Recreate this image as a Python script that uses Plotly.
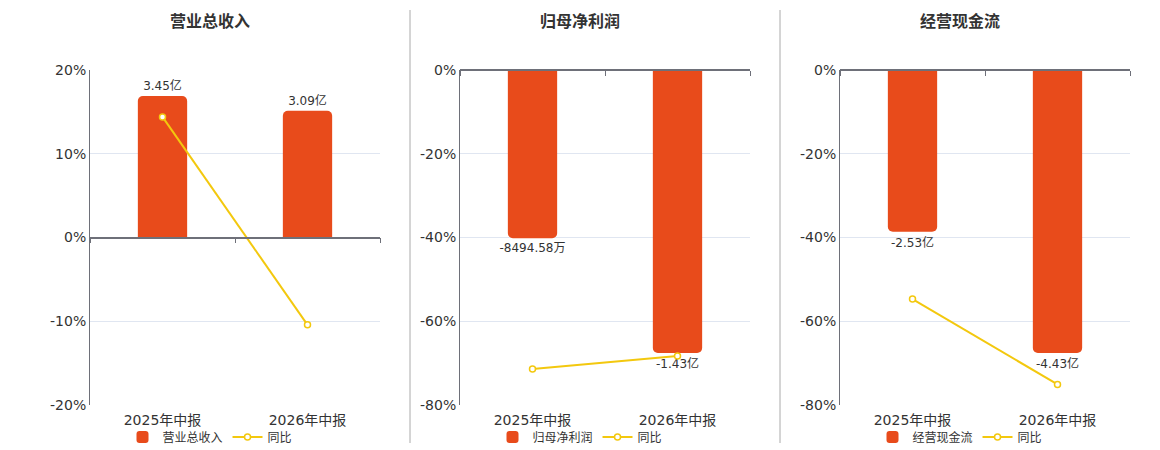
import plotly.graph_objects as go

# --- data ---
categories = ['2025年中报', '2026年中报']

titles = ['营业总收入', '归母净利润', '经营现金流']

revenue = [3.45, 3.09]            # 亿
revenue_labels = ['3.45亿', '3.09亿']
revenue_yoy = [14.4, -10.43]      # %

profit = [-0.849458, -1.43]       # 亿
profit_labels = ['-8494.58万', '-1.43亿']
profit_yoy = [-71.4, -68.3]

cashflow = [-2.53, -4.43]         # 亿
cashflow_labels = ['-2.53亿', '-4.43亿']
cashflow_yoy = [-54.7, -75.1]

pct_ranges = [(-20, 20, 10), (-80, 0, 20), (-80, 0, 20)]

BAR_COLOR = '#E84B1B'
LINE_COLOR = '#F3C80E'
AXIS_COLOR = '#6E7079'
GRID_COLOR = '#E0E6F1'
TEXT_COLOR = '#333333'
FONT = 'DejaVu Sans, Noto Sans CJK SC, sans-serif'

W, H = 1160, 450
# plot areas in pixels (left, right), shared top/bottom; title/legend centres
x_px = [(90, 380), (460, 750), (840, 1130)]
centre_px = [210, 580, 960]
top_px, bottom_px = 70, 405

panels = [
    (revenue, revenue_labels, revenue_yoy),
    (profit, profit_labels, profit_yoy),
    (cashflow, cashflow_labels, cashflow_yoy),
]

fig = go.Figure()
y_dom = [1 - bottom_px / H, 1 - top_px / H]

for i, ((bars, labels, yoy), title, (lo, hi, step)) in enumerate(zip(panels, titles, pct_ranges)):
    n = i + 1
    sfx = '' if n == 1 else str(n)
    ov = str(n + 3)  # overlay axes: percent scale, line, zero axis
    x_dom = [x_px[i][0] / W, x_px[i][1] / W]
    leg = 'legend' if n == 1 else f'legend{n}'

    # bars sit on a hidden axis so the tallest bar fills ~84.5% of the grid
    m = max(abs(v) for v in bars) / 0.845
    bar_lo = lo / max(abs(lo), abs(hi)) * m
    bar_hi = hi / max(abs(lo), abs(hi)) * m

    fig.add_trace(go.Bar(
        x=categories, y=bars, name=title, text=labels,
        textposition='outside', cliponaxis=False, constraintext='none',
        textfont=dict(size=12, color=TEXT_COLOR),
        marker=dict(color=BAR_COLOR, cornerradius=5, line=dict(width=0)),
        width=0.34, xaxis='x' + sfx, yaxis='y' + sfx, legend=leg,
        hoverinfo='skip',
    ))
    fig.add_trace(go.Scatter(
        x=categories, y=yoy, name='同比', mode='lines+markers',
        line=dict(color=LINE_COLOR, width=2),
        marker=dict(symbol='circle', size=6, color='white',
                    line=dict(color=LINE_COLOR, width=1.5)),
        xaxis='x' + ov, yaxis='y' + ov, legend=leg, cliponaxis=False,
    ))

    zero_pos = y_dom[0] + (0 - lo) / (hi - lo) * (y_dom[1] - y_dom[0])
    pct_ticks = list(range(lo, hi + 1, step))

    fig.update_layout(**{
        f'xaxis{sfx}': dict(
            domain=x_dom, anchor='y' + sfx, type='category',
            categoryorder='array', categoryarray=categories,
            range=[-0.5, 1.5], showline=False, showgrid=False, ticks='',
            ticklabelstandoff=5,
            tickfont=dict(size=14, color=TEXT_COLOR), fixedrange=True,
            automargin=False,
        ),
        f'yaxis{sfx}': dict(
            domain=y_dom, anchor='x' + sfx, range=[bar_lo, bar_hi],
            visible=False, fixedrange=True, automargin=False,
        ),
        f'xaxis{ov}': dict(
            overlaying='x' + sfx, anchor='free', position=zero_pos,
            type='category', categoryorder='array', categoryarray=categories,
            range=[-0.5, 1.5], showline=True, linecolor=AXIS_COLOR, linewidth=1.5,
            ticks='outside', ticklen=5, tickcolor=AXIS_COLOR, tickson='boundaries',
            showticklabels=False, showgrid=False, fixedrange=True, automargin=False,
        ),
        f'yaxis{ov}': dict(
            overlaying='y' + sfx, anchor='x' + sfx, side='left',
            range=[lo, hi], tickmode='array', tickvals=pct_ticks,
            ticktext=[f'{v}%' for v in pct_ticks],
            showline=True, linecolor=AXIS_COLOR, linewidth=1,
            showgrid=True, gridcolor=GRID_COLOR, zeroline=False, ticks='',
            tickfont=dict(size=14, color=TEXT_COLOR), fixedrange=True,
            automargin=False,
        ),
        leg: dict(
            orientation='h', x=centre_px[i] / W, xanchor='center',
            y=1 - 437 / H, yanchor='middle', font=dict(size=12, color=TEXT_COLOR),
            bgcolor='rgba(0,0,0,0)', itemwidth=30, tracegroupgap=0,
        ),
    })

    fig.add_annotation(
        text=f'<b>{title}</b>', xref='paper', yref='paper',
        x=centre_px[i] / W, y=1 - 22 / H, showarrow=False,
        font=dict(size=16, color=TEXT_COLOR), xanchor='center', yanchor='middle',
    )

# panel separators
for sep in (410, 780):
    fig.add_shape(type='line', xref='paper', yref='paper',
                  x0=sep / W, x1=sep / W, y0=1 - 443 / H, y1=1 - 10 / H,
                  line=dict(color='#AAAAAA', width=1))

fig.update_layout(
    width=W, height=H, margin=dict(l=0, r=0, t=0, b=0, autoexpand=False),
    plot_bgcolor='white', paper_bgcolor='white',
    font=dict(family=FONT, color=TEXT_COLOR),
    barmode='group', showlegend=True,
)

fig.write_html('out.html', config={'displayModeBar': False},
               post_script="document.body.style.margin='0';")
